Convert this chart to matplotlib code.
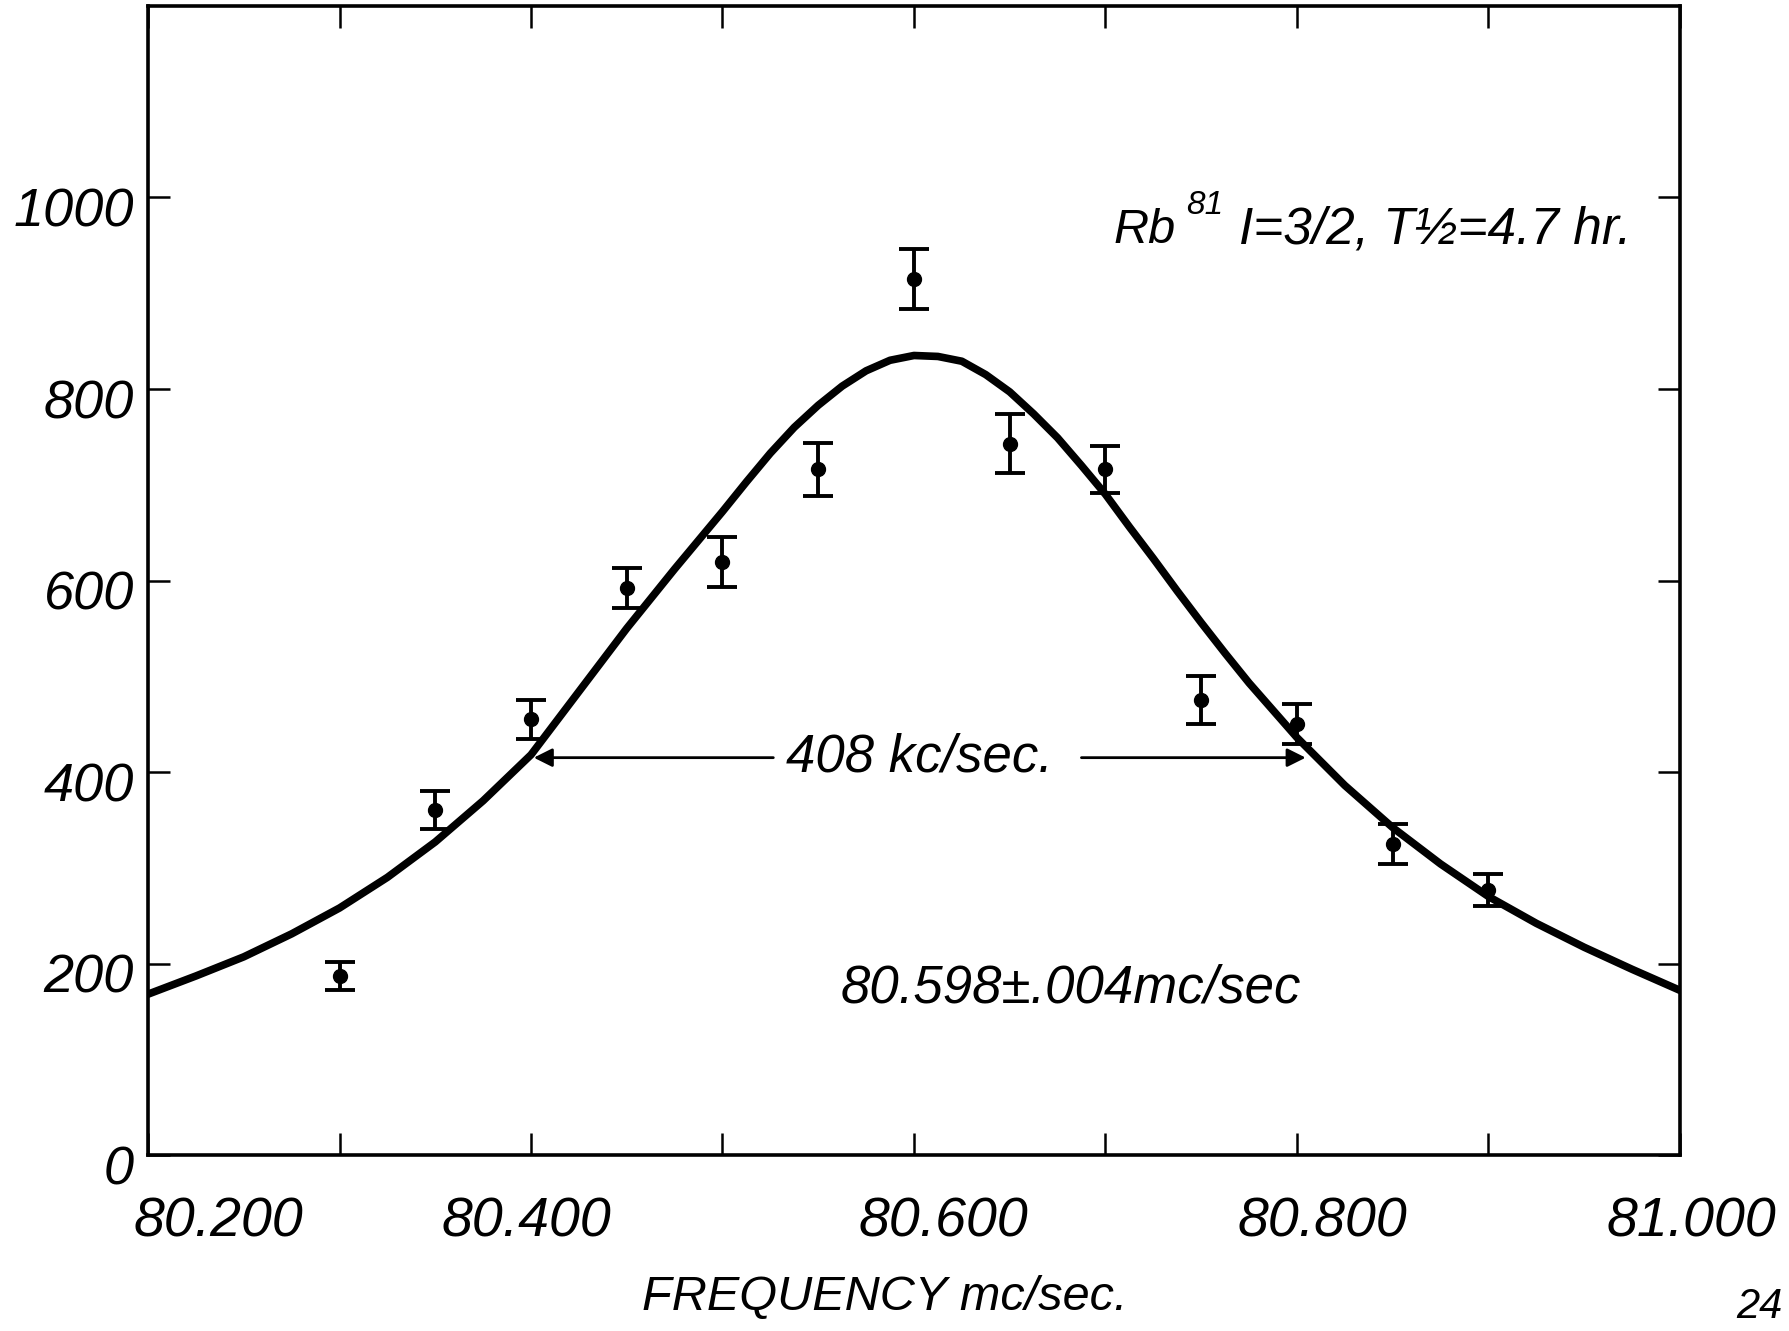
import matplotlib
matplotlib.use("Agg")
import matplotlib.pyplot as plt
from matplotlib.transforms import ScaledTranslation

# measured points (frequency in mc/sec, counts) with error bars
freq = [80.30, 80.35, 80.40, 80.45, 80.50, 80.55, 80.60,
        80.65, 80.70, 80.75, 80.80, 80.85, 80.90]
counts = [187, 360, 455, 592, 619, 716, 915, 743, 716, 475, 450, 325, 277]
count_err = [15, 20, 20, 21, 26, 28, 31, 31, 25, 25, 21, 21, 17]

# resonance curve as drawn (denser near the peak)
curve_freq = [80.200, 80.225, 80.250, 80.275, 80.300, 80.325, 80.350, 80.375,
              80.400, 80.425, 80.4375, 80.450, 80.4625, 80.475, 80.4875,
              80.500, 80.5125, 80.525, 80.5375, 80.550, 80.5625, 80.575,
              80.5875, 80.600, 80.6125, 80.625, 80.6375, 80.650, 80.6625,
              80.675, 80.6875, 80.700, 80.7125, 80.725, 80.7375, 80.750,
              80.7625, 80.775, 80.800, 80.825, 80.850, 80.875, 80.900,
              80.925, 80.950, 80.975, 81.000]
curve_counts = [168, 187, 207, 231, 258, 290, 327, 370,
                418, 484, 517, 550, 581, 612, 642,
                672, 703, 733, 760, 783, 803, 819,
                830, 835, 834, 829, 815, 797, 774,
                749, 720, 690, 656, 623, 589, 556,
                524, 493, 436, 386, 342, 304, 270,
                242, 217, 194, 172]

# half-maximum points of the curve (408 kc/sec apart)
half_left = 80.400
half_right = 80.806
half_level = 415

xtick_pos = [80.2, 80.3, 80.4, 80.5, 80.6, 80.7, 80.8, 80.9, 81.0]
xtick_labels = ["80.200", "", "80.400", "", "80.600", "", "80.800", "", "81.000"]
ytick_pos = [0, 200, 400, 600, 800, 1000]
ytick_labels = ["0", "200", "400", "600", "800", "1000"]

FONT = ["Liberation Sans", "DejaVu Sans"]
plt.rcParams["font.family"] = FONT
plt.rcParams["font.style"] = "italic"

fig = plt.figure(figsize=(17.9, 13.31), dpi=100)
ax = fig.add_axes([0.0827, 0.1322, 0.8558, 0.8633])

ax.plot(curve_freq, curve_counts, color="black", lw=5.5,
        solid_capstyle="round", solid_joinstyle="round")
ax.errorbar(freq, counts, yerr=count_err, fmt="o", color="black", ms=10,
            elinewidth=2.8, capsize=11, capthick=2.8)

ax.set_xlim(80.2, 81.0)
ax.set_ylim(0, 1200)
for s in ax.spines.values():
    s.set_linewidth(2.6)

ax.set_xticks(xtick_pos)
ax.set_xticklabels(xtick_labels, fontsize=40)
ax.set_yticks(ytick_pos)
ax.set_yticklabels(ytick_labels, fontsize=39)
ax.tick_params(direction="in", length=16, width=1.8, top=True, right=True)
ax.tick_params(axis="x", pad=30)
ax.tick_params(axis="y", pad=10)

# hand lettering sits a little off the ticks
x_shift = [51, 0, -3, 0, 21, 0, 18, 0, 8]
for lbl, dx in zip(ax.get_xticklabels(), x_shift):
    lbl.set_transform(lbl.get_transform() + ScaledTranslation(dx / 72, 0, fig.dpi_scale_trans))
for lbl in ax.get_yticklabels():
    lbl.set_transform(lbl.get_transform() + ScaledTranslation(0, -7 / 72, fig.dpi_scale_trans))

# width annotation
ax.text(80.603, half_level, "408 kc/sec.", fontsize=38, ha="center", va="center")
ax.annotate("", xy=(half_left, half_level), xytext=(80.528, half_level),
            arrowprops=dict(arrowstyle="-|>", lw=2, color="black", mutation_scale=28))
ax.annotate("", xy=(half_right, half_level), xytext=(80.686, half_level),
            arrowprops=dict(arrowstyle="-|>", lw=2, color="black", mutation_scale=28))

ax.text(80.682, 174, "80.598\u00b1.004mc/sec", fontsize=38, ha="center", va="center")

ax.text(80.704, 952, "Rb", fontsize=35, ha="left", va="baseline")
ax.text(80.742, 983, "81", fontsize=24, ha="left", va="baseline")
ax.text(80.770, 952, "I=3/2, T\u00bd=4.7 hr.", fontsize=37, ha="left", va="baseline")

fig.text(0.494, 0.025, "FREQUENCY mc/sec.", fontsize=35, ha="center", va="center",
         fontstyle="italic")
fig.text(0.970, 0.033, "24", fontsize=30, ha="left", va="top", fontstyle="italic")

fig.savefig("out.png", dpi=100, facecolor="white")
